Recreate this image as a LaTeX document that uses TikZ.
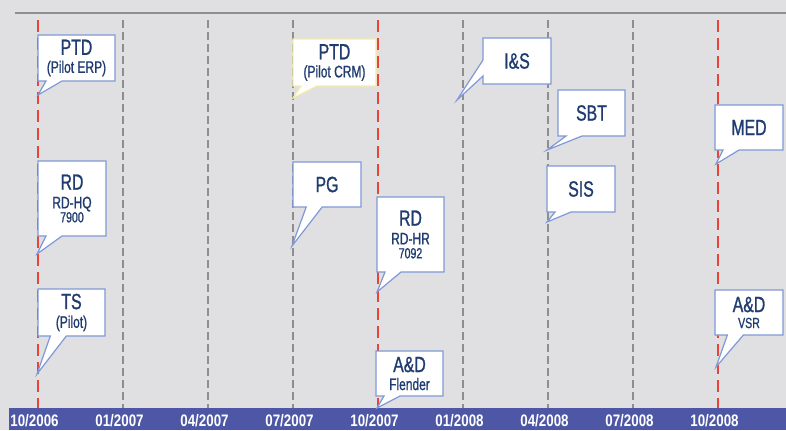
\documentclass[tikz,border=0pt]{standalone}
\usepackage{fontspec}
\setmainfont{Liberation Sans}[FakeStretch=0.8]
\newfontfamily\callfont{Liberation Sans}[FakeStretch=0.72, FakeBold=1]
\usetikzlibrary{shapes.callouts}
\definecolor{tlback}{HTML}{E0E0E2}
\definecolor{tlbar}{HTML}{4D57A5}
\definecolor{tlgrid}{HTML}{8E8E8E}
\definecolor{tlred}{HTML}{E8443A}
\definecolor{tlborder}{HTML}{7F98D6}
\definecolor{tlyellow}{HTML}{F3EDA8}
\definecolor{tlnavy}{HTML}{1F3B70}
\newcommand\calltitle{\callfont\fontsize{16.5}{15}\selectfont}
\newcommand\callsub{\fontsize{12.5}{13}\selectfont}
\newcommand\callnum{\fontsize{11}{11}\selectfont}
\tikzset{
  gridline/.style={tlgrid, line width=1.1pt, dash pattern=on 6pt off 3pt},
  redline/.style={tlred, line width=1.6pt, dash pattern=on 9pt off 4.5pt},
  datelabel/.style={font=\bfseries\fontsize{12.5}{13}\selectfont, text=white, inner sep=0pt},
  callbox/.style={rectangle callout, draw=tlborder, line width=0.9pt, fill=white,
    anchor=north west, outer sep=0pt, inner sep=1pt, align=center, text=tlnavy,
    font=\calltitle, callout pointer width=12pt},
  boxsize/.style 2 args={minimum width=#1*0.75pt, minimum height=#2*0.75pt},
}

\begin{document}
\begin{tikzpicture}[x=0.75pt, y=-0.75pt]
  \fill[tlback] (0,0) rectangle (786,430);
  \useasboundingbox (0,0) rectangle (786,430);
  \draw[tlgrid, line width=1.5pt] (15,13) -- (786,13);
  % quarters
  \foreach \x in {123,208,293,463,548,633}
    \draw[gridline] (\x,20) -- (\x,408);
  \foreach \x in {38,378,718}
    \draw[redline] (\x,20) -- (\x,408);
  \fill[tlbar] (9,408) rectangle (786,430);
  \foreach \d [count=\i from 0] in {10/2006,01/2007,04/2007,07/2007,10/2007,01/2008,04/2008,07/2008,10/2008}
    \node[datelabel] (date\i) at (34.5+85*\i,420.5) {\d};

  % callouts
  \coordinate (erp tip) at (38,95);
  \coordinate (rdhq tip) at (37,254);
  \coordinate (ts tip) at (37,374);
  \coordinate (crm tip) at (293,98);
  \coordinate (pg tip) at (292,246);
  \coordinate (rdhr tip) at (377,292);
  \coordinate (flender tip) at (377,408);
  \coordinate (ins tip) at (457,100);
  \coordinate (sbt tip) at (547,150);
  \coordinate (sis tip) at (547,222);
  \coordinate (med tip) at (716,164);
  \coordinate (vsr tip) at (716,367);

  \node[callbox, boxsize={77}{46}, callout absolute pointer={(erp tip)}] (erp) at (38,35)
    {PTD\\[-1.5pt]{\callsub (Pilot ERP)}};
  \node[callbox, boxsize={68}{75}, callout absolute pointer={(rdhq tip)}] (rdhq) at (38,161)
    {RD\\[-1pt]{\callsub RD-HQ}\\[-4.5pt]{\callnum 7900}};
  \node[callbox, boxsize={67}{47}, callout absolute pointer={(ts tip)}] (ts) at (38,289)
    {TS\\[-1pt]{\callsub (Pilot)}};
  \node[callbox, draw=tlyellow, boxsize={83}{47}, callout absolute pointer={(crm tip)}] (crm) at (293,39)
    {PTD\\[-1.5pt]{\callsub (Pilot CRM)}};
  \node[callbox, boxsize={68}{45}, callout absolute pointer={(pg tip)}] (pg) at (293,162) {PG};
  \node[callbox, boxsize={67}{75}, callout absolute pointer={(rdhr tip)}] (rdhr) at (377,197)
    {RD\\[-1pt]{\callsub RD-HR}\\[-4.5pt]{\callnum 7092}};
  \node[callbox, boxsize={67}{45}, callout absolute pointer={(flender tip)}] (flender) at (376,351)
    {A\&D\\[-1.5pt]{\callsub Flender}};
  \node[callbox, boxsize={68}{46}, callout absolute pointer={(ins tip)}] (ins) at (483,38) {I\&S};
  \node[callbox, boxsize={67}{46}, callout absolute pointer={(sbt tip)}] (sbt) at (558,90) {SBT};
  \node[callbox, boxsize={68}{46}, callout absolute pointer={(sis tip)}] (sis) at (547,166) {SIS};
  \node[callbox, boxsize={68}{45}, callout absolute pointer={(med tip)}] (med) at (715,105) {MED};
  \node[callbox, boxsize={68}{45}, callout absolute pointer={(vsr tip)}] (vsr) at (715,290)
    {A\&D\\[-3pt]{\callnum VSR}};
\end{tikzpicture}
\end{document}
